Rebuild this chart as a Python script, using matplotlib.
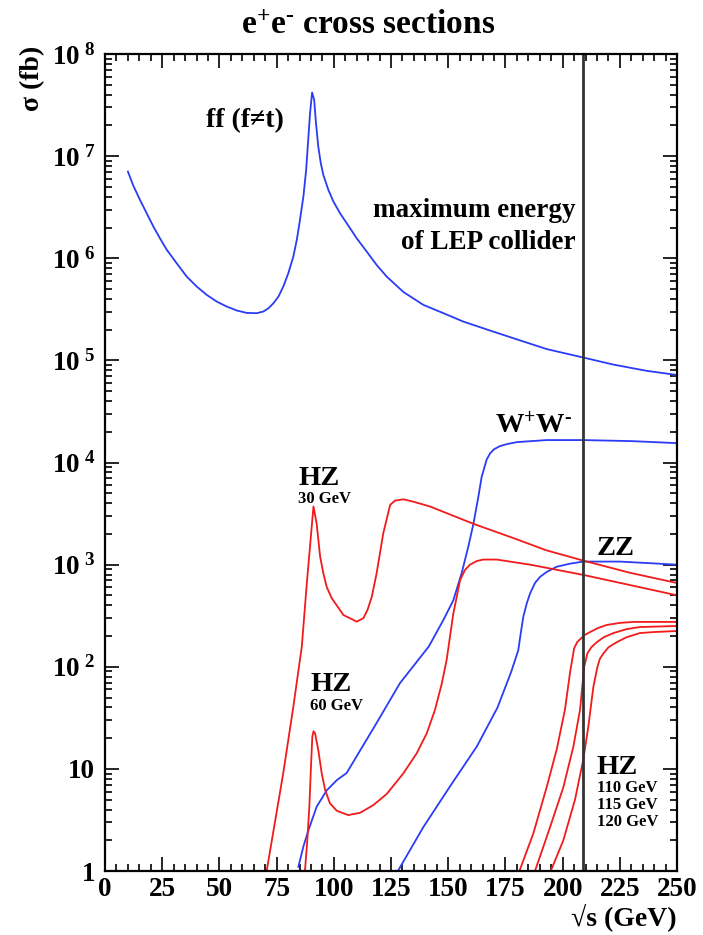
"""
e+e- cross sections vs sqrt(s), with the LEP maximum energy marked.
"""

import math
import matplotlib
matplotlib.use("Agg")
import matplotlib.pyplot as plt
from matplotlib.ticker import MultipleLocator, LogLocator, FixedLocator, FuncFormatter, NullFormatter

# ---- data (sqrt(s) in GeV, sigma in fb) ----
ff_x = [10, 12.4, 15.3, 18.2, 21.1, 24.0, 27.0, 31.3, 35.7, 40.1, 44.4, 48.8, 53.2,
        57.6, 61.9, 66.3, 69.2, 71.4, 73.6, 75.8, 77.9, 80.1, 82.3, 83.8, 85.2, 86.7,
        87.9, 88.9, 89.6, 90.5, 91.4, 92.2, 93.2, 94.3, 95.4, 97.6, 99.8, 102.7, 105.6,
        110.0, 114.4, 118.7, 123.1, 130.4, 139.1, 147.9, 156.6, 168.3, 179.9, 193.1,
        208.8, 222.2, 236.8, 250]
ff_y = [7.06e6, 5.12e6, 3.72e6, 2.76e6, 2.05e6, 1.57e6, 1.21e6, 8.95e5, 6.62e5, 5.28e5,
        4.39e5, 3.77e5, 3.37e5, 3.08e5, 2.92e5, 2.90e5, 3.01e5, 3.24e5, 3.63e5, 4.22e5,
        5.28e5, 7.14e5, 1.04e6, 1.51e6, 2.38e6, 4.03e6, 7.35e6, 1.56e7, 2.64e7, 4.20e7,
        3.56e7, 2.10e7, 1.24e7, 8.53e6, 6.56e6, 4.68e6, 3.60e6, 2.76e6, 2.21e6, 1.57e6,
        1.16e6, 8.61e5, 6.62e5, 4.68e5, 3.50e5, 2.90e5, 2.40e5, 1.96e5, 1.61e5, 1.29e5,
        1.07e5, 9.1e4, 7.9e4, 7.2e4]

ww_x = [84.5, 86.7, 88.9, 92.5, 96.9, 101.3, 105.6, 118.7, 128.9, 141.5, 147.9, 152.2,
        155.9, 158.8, 161, 163.2, 164.6, 166.8, 168.3, 170, 172.5, 175.5, 180, 193, 209,
        230, 250]
ww_y = [1.10, 1.74, 2.51, 4.27, 6.17, 7.76, 9.12, 28.2, 69.2, 158, 288, 447, 832, 1514,
        2512, 4677, 7244, 10715, 12303, 13490, 14454, 15136, 15849, 16596, 16596, 16218,
        15488]

zz_x = [128.2, 139.1, 150.8, 162.5, 171.5, 177.5, 180.6, 181.7, 182.8, 184.3, 185.8,
        187.9, 190.1, 193.1, 197.4, 203.2, 209, 225, 250]
zz_y = [1.02, 2.69, 6.76, 16.6, 39.8, 89.1, 145, 214, 309, 417, 525, 661, 759, 851,
        955, 1023, 1072, 1072, 1000]

hz30_x = [70.7, 77.9, 82.3, 86, 88.2, 91.1, 92.5, 94, 95.4, 96.9, 99.1, 104.2, 110.0,
          112.9, 114.7, 116.6, 118.7, 121.6, 124.6, 126.7, 130.4, 134.7, 142, 161, 178.5,
          193, 209, 229.5, 250]
hz30_y = [1.02, 9.12, 40.7, 158, 661, 3715, 2512, 1202, 824, 603, 469, 321, 277, 299,
          360, 486, 824, 2028, 3846, 4236, 4365, 4140, 3715, 2512, 1820, 1380, 1096, 832,
          661]

hz60_x = [87.4, 88.4, 89.3, 90.0, 90.6, 91.1, 91.8, 93.2, 94.7, 96.2, 98.3, 101.3, 106.3,
          111.5, 117.3, 123.1, 130.4, 136.2, 140.6, 144.2, 147.2, 149.3, 152.2, 155.2,
          157.3, 159.5, 162.5, 165.3, 171.2, 185.8, 209, 229.5, 250]
hz60_y = [1.02, 2.0, 4.27, 10.5, 20.7, 23.4, 22.3, 15.3, 9.06, 6.21, 4.60, 3.89, 3.53,
          3.72, 4.43, 5.68, 9.06, 14.2, 22.3, 37.8, 68.9, 117, 331, 708, 887, 1000, 1086,
          1122, 1122, 1000, 794, 631, 501]

hz110_x = [181.1, 187.2, 193, 197.4, 201, 203.2, 205, 206.3, 207.6, 209.5, 212, 215.5,
           219.3, 225, 230.9, 250]
hz110_y = [1.0, 2.34, 6.61, 15.5, 38.0, 87.1, 151, 174, 186, 204, 219, 240, 257, 269,
           275, 275]

hz115_x = [187.9, 194.5, 200.3, 204.7, 207.6, 209.4, 210.8, 212.5, 214.9, 218, 222.2,
           228, 233.8, 250]
hz115_y = [1.0, 2.69, 6.61, 16.6, 38.0, 100, 135, 155, 174, 195, 214, 234, 245, 251]

hz120_x = [194.8, 200.3, 205.4, 209, 211.2, 213.4, 215.2, 216.3, 217.8, 220, 223.6, 228,
           233.8, 240, 250]
hz120_y = [1.0, 2.0, 5.01, 12.3, 25.7, 63.1, 100, 120, 135, 155, 174, 195, 214, 219, 224]

LEP_MAX = 209  # GeV

BLUE = "#2a3cf5"
RED = "#f21a1a"
SERIF = ["Liberation Serif", "DejaVu Serif"]

plt.rcParams["font.family"] = SERIF
plt.rcParams["font.weight"] = "bold"
plt.rcParams["mathtext.fontset"] = "custom"
plt.rcParams["mathtext.rm"] = "Liberation Serif:bold"
plt.rcParams["mathtext.it"] = "Liberation Serif:bold"
plt.rcParams["mathtext.bf"] = "Liberation Serif:bold"

fig = plt.figure(figsize=(7.03, 9.35), dpi=100)
ax = fig.add_axes([0.1494, 0.0684, 0.8137, 0.8738])

for xs, ys in [(ff_x, ff_y), (ww_x, ww_y), (zz_x, zz_y)]:
    ax.plot(xs, ys, color=BLUE, lw=1.3)
for xs, ys in [(hz30_x, hz30_y), (hz60_x, hz60_y), (hz110_x, hz110_y),
               (hz115_x, hz115_y), (hz120_x, hz120_y)]:
    ax.plot(xs, ys, color=RED, lw=1.3)

ax.axvline(LEP_MAX, color="#333333", lw=2.0)

ax.set_xlim(0, 250)
ax.set_yscale("log")
ax.set_ylim(1, 1e8)

# ticks, ROOT style: inward on all four sides
ax.xaxis.set_major_locator(MultipleLocator(25))
ax.xaxis.set_minor_locator(MultipleLocator(5))
ax.yaxis.set_major_locator(FixedLocator([10.0 ** k for k in range(9)]))
ax.yaxis.set_minor_locator(LogLocator(base=10, subs=range(2, 10), numticks=20))
ax.yaxis.set_minor_formatter(NullFormatter())


def ylab(v, pos):
    k = int(round(math.log10(v)))
    if k == 0:
        return "1"
    if k == 1:
        return "10"
    return r"$10^{\ %d}$" % k


ax.yaxis.set_major_formatter(FuncFormatter(ylab))
ax.tick_params(which="both", direction="in", top=True, right=True, width=1.2,
               labelsize=19.5, pad=7)
ax.tick_params(axis="x", which="major", pad=4)
ax.tick_params(which="major", length=10)
ax.tick_params(which="minor", length=5)
for s in ax.spines.values():
    s.set_linewidth(1.6)

fig.text(0.524, 0.973, "e$^{+}$e$^{\u2010}$ cross sections", ha="center", va="center",
         fontsize=24, fontweight="bold")
ax.set_xlabel("√s (GeV)", fontsize=20, fontweight="bold", loc="right", labelpad=1)
ax.set_ylabel("σ (fb)", fontsize=20, fontweight="bold", loc="top")
ax.yaxis.set_label_coords(-0.105, 1.01)

kw = dict(fontweight="bold")
ax.text(61, 10 ** 7.28, "ff (f≠t)", fontsize=20, ha="center", va="baseline", **kw)
ax.text(205.5, 10 ** 6.40, "maximum energy", fontsize=19.5, ha="right", va="baseline", **kw)
ax.text(205.5, 10 ** 6.09, "of LEP collider", fontsize=19.5, ha="right", va="baseline", **kw)
ax.text(170.5, 10 ** 4.30, "W$^{+}$W$^{\u2010}$", fontsize=20.5, ha="left", va="baseline", **kw)
ax.text(84.4, 10 ** 3.78, "HZ", fontsize=20.5, ha="left", va="baseline", **kw)
ax.text(84.4, 10 ** 3.60, "30 GeV", fontsize=12, ha="left", va="baseline", **kw)
ax.text(215, 10 ** 3.095, "ZZ", fontsize=20.5, ha="left", va="baseline", **kw)
ax.text(89.6, 10 ** 1.76, "HZ", fontsize=20.5, ha="left", va="baseline", **kw)
ax.text(89.6, 10 ** 1.577, "60 GeV", fontsize=12, ha="left", va="baseline", **kw)
ax.text(215, 10 ** 0.95, "HZ", fontsize=20.5, ha="left", va="baseline", **kw)
ax.text(215, 10 ** 0.774, "110 GeV", fontsize=12, ha="left", va="baseline", **kw)
ax.text(215, 10 ** 0.607, "115 GeV", fontsize=12, ha="left", va="baseline", **kw)
ax.text(215, 10 ** 0.441, "120 GeV", fontsize=12, ha="left", va="baseline", **kw)

fig.savefig("out.png", dpi=100)
